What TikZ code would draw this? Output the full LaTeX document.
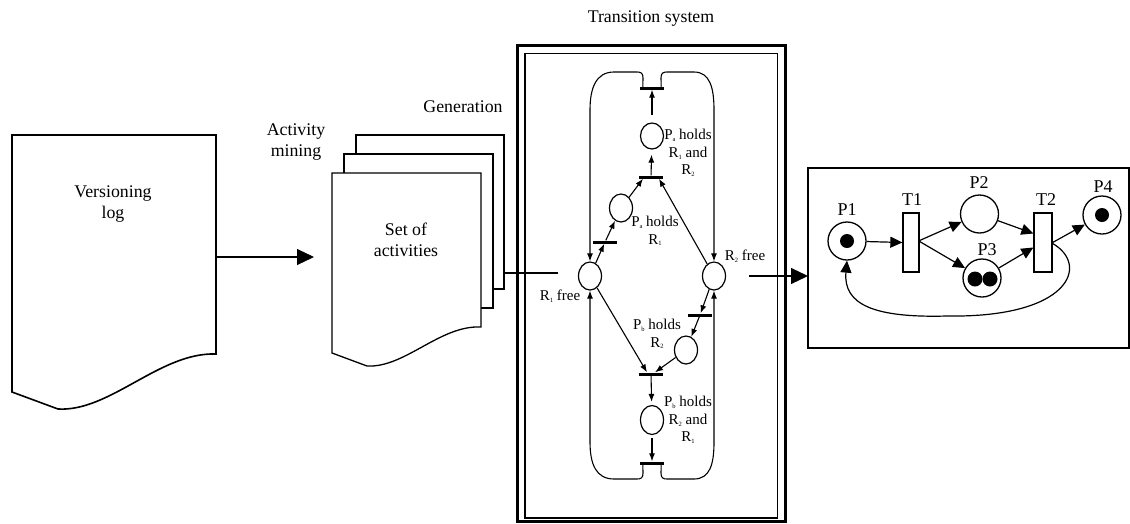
\documentclass[tikz,border=0pt]{standalone}
\usepackage{fontspec}
\setmainfont{Liberation Serif}
\usetikzlibrary{arrows.meta,shapes.geometric,calc}
\newcommand\sbs[1]{\raisebox{-1.6pt}{\fontsize{6.5}{7}\selectfont #1}}
\begin{document}
\begin{tikzpicture}[x=1pt,y=-1pt,
  doc/.style={line width=1.6pt, fill=white, line join=miter},
  sheet/.style={line width=1.3pt, fill=white},
  lbl/.style={font=\fontsize{17.8}{21}\selectfont, align=center, inner sep=0},
  sml/.style={font=\fontsize{15}{17.5}\selectfont, align=center, inner sep=0},
  pl/.style={ellipse, draw, line width=1.2pt, minimum width=23pt, minimum height=28pt, inner sep=0},
  bar/.style={rectangle, fill=black, minimum width=24pt, minimum height=3pt, inner sep=0},
  tsarr/.style={line width=1.1pt, -{Latex[length=8pt,width=6pt]}},
  bigarr/.style={line width=1.1pt, -{Triangle[length=17pt,width=16pt]}},
  pnplace/.style={circle, draw, line width=1.3pt, minimum size=38pt, inner sep=0},
  pntrans/.style={rectangle, draw, line width=1.3pt, minimum height=59pt, inner sep=0},
  pnarr/.style={line width=1.2pt, -{Triangle[length=12pt,width=11pt]}},
  pnlbl/.style={font=\fontsize{18}{20}\selectfont, inner sep=0}
]
\useasboundingbox (0,0) rectangle (1130,523);

% ---------- Versioning log ----------
\draw[doc] (12,135) -- (216,135) -- (216,354)
  .. controls (160,352) and (110,412) .. (58,409) -- (12,392) -- cycle;
\node[lbl] (vlog) at (113,204) {Versioning\\log};
\coordinate (vlR) at (216,257);
\coordinate (actTip) at (314,257);
\draw[bigarr] (vlR) -- (actTip);
\node[lbl] (amin) at (296,142) {Activity\\mining};

% ---------- Set of activities ----------
\draw[sheet] (356,135) rectangle (504,289);
\draw[sheet] (344,154) rectangle (493,308);
\draw[sheet] (332,173) -- (481,173) -- (481,327)
  .. controls (440,325) and (405,368) .. (367,366) -- (332,353) -- cycle;
\node[lbl] (soa) at (406,240) {Set of\\activities};
\node[lbl] (gen) at (463,107) {Generation};
\coordinate (stackR) at (504,273);
\coordinate (stackE) at (558,273);
\draw[line width=1.2pt] (stackR) -- (stackE);

% ---------- Transition system frame ----------
\node[lbl] (tstitle) at (651,19) {Transition system};
\draw[line width=3.2pt] (517.5,45.5) rectangle (785.5,521.5);
\draw[line width=1.4pt] (525,53.5) rectangle (777.5,518);

% places
\node[pl] (R1) at (590,276) {};
\node[pl] (R2) at (714,276) {};
\node[pl] (PaR1) at (621,208) {};
\node[pl, minimum height=26pt] (PaR12) at (652,136) {};
\node[pl] (PbR2) at (686,350) {};
\node[pl, minimum height=29pt] (PbR21) at (652,420) {};
% transitions (bars)
\node[bar] (tTop) at (652,88) {};
\node[bar] (tA2) at (651,177) {};
\node[bar] (tA1) at (605,242) {};
\node[bar] (tB1) at (700,315) {};
\node[bar] (tB2) at (651,374) {};
\node[bar] (tBot) at (652,463) {};

% labels
\node[sml] (lPa12) at (688,153) {P\sbs{a} holds\\R\sbs{1} and\\R\sbs{2}};
\node[sml] (lPa1) at (655,231) {P\sbs{a} holds\\R\sbs{1}};
\node[sml] (lR2) at (745,256) {R\sbs{2} free};
\node[sml] (lR1) at (560,296) {R\sbs{1} free};
\node[sml] (lPb2) at (657,334) {P\sbs{b} holds\\R\sbs{2}};
\node[sml] (lPb21) at (688,420) {P\sbs{b} holds\\R\sbs{2} and\\R\sbs{1}};

% arcs
\draw[tsarr] (R1) -- (tA1);
\draw[tsarr] (tA1) -- (PaR1);
\draw[tsarr] (PaR1) -- ($(tA2.south)+(-8,0)$);
\draw[tsarr] (R2) -- ($(tA2.south)+(8,0)$);
\draw[tsarr, shorten >=5pt] (tA2) -- (PaR12);
\draw[tsarr, shorten <=7pt] (PaR12) -- (tTop);
\draw[tsarr] (R2) -- (tB1);
\draw[tsarr] (tB1) -- (PbR2);
\draw[tsarr] (PbR2) -- ($(tB2.north)+(4,0)$);
\draw[tsarr] (R1) -- ($(tB2.north)+(-4,0)$);
\draw[tsarr, shorten >=3pt] (tB2) -- (PbR21);
\draw[tsarr, shorten <=3pt] (PbR21) -- (tBot);

% outline (return arcs)
\draw[tsarr] ($(tTop.west)+(3,0)$) -- (643,78) .. controls (643,73) and (641,72) .. (637,72)
  -- (614,72) .. controls (596,72) and (590,88) .. (590,110) -- (R1.north);
\draw[tsarr] ($(tTop.east)+(-3,0)$) -- (661,78) .. controls (661,73) and (663,72) .. (667,72)
  -- (694,72) .. controls (710,72) and (714,88) .. (714,110) -- (R2.north);
\draw[tsarr] ($(tBot.west)+(3,0)$) -- (643,473) .. controls (643,478) and (641,479) .. (637,479)
  -- (614,479) .. controls (596,479) and (590,464) .. (590,442) -- (R1.south);
\draw[tsarr] ($(tBot.east)+(-3,0)$) -- (661,473) .. controls (661,478) and (663,479) .. (667,479)
  -- (694,479) .. controls (710,479) and (714,464) .. (714,442) -- (R2.south);

% arrow to petri net
\coordinate (tsOut) at (749,276);
\coordinate (pnIn) at (808,276);
\draw[bigarr] (tsOut) -- (pnIn);

% ---------- Petri net ----------
\draw[line width=1.5pt] (808,168) rectangle (1129,348);
\node[pnplace] (P1) at (847,241) {};
\node[pnplace] (P2) at (979.5,214) {};
\node[pnplace] (P3) at (982,278) {};
\node[pnplace] (P4) at (1102,215) {};
\node[pntrans, minimum width=16pt] (T1) at (911,242.5) {};
\node[pntrans, minimum width=18pt] (T2) at (1043,242.5) {};
\fill (P1) circle (7pt);
\fill (P4) circle (7pt);
\fill (975,279) circle (7.5pt);
\fill (990,279) circle (7.5pt);
\node[pnlbl] (lP1) at (847,210) {P1};
\node[pnlbl] (lT1) at (912,200) {T1};
\node[pnlbl] (lP2) at (979,183) {P2};
\node[pnlbl] (lT2) at (1046,200) {T2};
\node[pnlbl] (lP4) at (1103,187) {P4};
\node[pnlbl] (lP3) at (987,250) {P3};

\draw[pnarr] (P1) -- (T1.west);
\draw[pnarr] ($(T1.east)+(0,-2)$) -- (P2);
\draw[pnarr] ($(T1.east)+(0,-1)$) -- (P3);
\draw[pnarr] (P2) -- ($(T2.west)+(0,-9)$);
\draw[pnarr] (P3) -- ($(T2.west)+(0,5)$);
\draw[pnarr] (T2.east) -- (P4);
\draw[pnarr] ($(T2.east)+(0,1)$) .. controls (1090,265) and (1070,318) .. (947,316)
  .. controls (875,318) and (843,305) .. (P1.south);
\end{tikzpicture}
\end{document}
